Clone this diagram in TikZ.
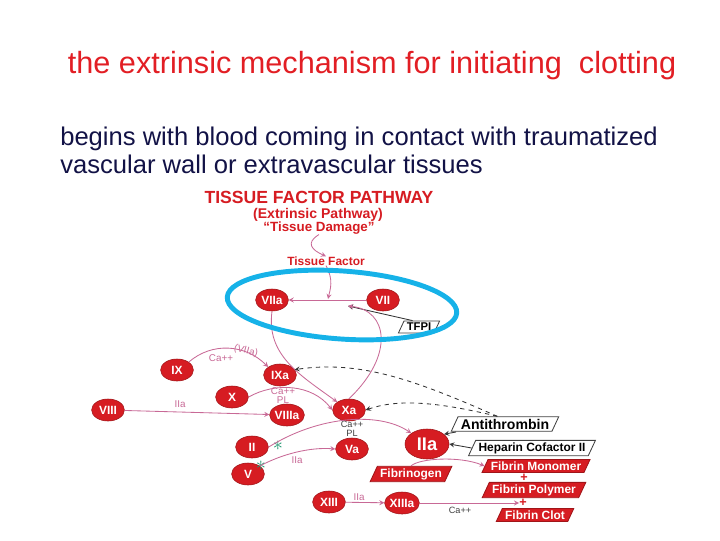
\documentclass[tikz,border=0pt]{standalone}
\usepackage{fontspec}
\setmainfont{Liberation Sans}
\usetikzlibrary{arrows,shapes.geometric}
\definecolor{nodered}{RGB}{214,28,34}
\definecolor{linkpink}{RGB}{200,105,150}
\definecolor{ringblue}{RGB}{22,178,232}
\definecolor{titlered}{RGB}{226,30,36}
\definecolor{textnavy}{RGB}{18,18,70}
\definecolor{stargreen}{RGB}{30,150,110}
\tikzstyle{factor} = [ellipse,fill=nodered,draw=nodered!75!black,text=white,font=\fontsize{8.5}{8.5}\selectfont\bfseries,inner sep=0pt,minimum width=0.82cm,minimum height=0.55cm]
\tikzstyle{bigfactor} = [factor,minimum width=1.1cm,minimum height=0.75cm,font=\fontsize{13}{13}\selectfont\bfseries]
\tikzstyle{head} = [text=nodered,inner sep=0pt]
\tikzstyle{tag} = [text=linkpink,inner sep=0pt,font=\fontsize{7}{7}\selectfont]
\tikzstyle{ion} = [text=black!75,inner sep=0pt,font=\fontsize{6.5}{6.5}\selectfont]
\tikzstyle{inhibitor} = [trapezium,trapezium left angle=65,trapezium right angle=115,draw=black!75,fill=white,font=\bfseries,inner xsep=2pt,inner ysep=1.5pt,line width=0.6pt]
\tikzstyle{fibrin} = [inhibitor,fill=nodered,draw=nodered!75!black,text=white]
\tikzstyle{link} = [draw=linkpink,line width=0.6pt,->,>=stealth]
\tikzstyle{stopper} = [draw=black!80,line width=0.6pt,->,>=stealth]
\tikzstyle{feedback} = [stopper,dashed]
\tikzstyle{star} = [text=stargreen,inner sep=0pt,font=\Large]

\begin{document}
\begin{tikzpicture}[x=0.025cm,y=-0.025cm]
				\useasboundingbox (0,0) rectangle (720,540);
				\node (title) [anchor=base,text=titlered,font=\fontsize{21.8}{26}\selectfont] at (372,73) {the extrinsic mechanism for initiating\ \ clotting};
				\node (intro1) [anchor=base west,text=textnavy,inner sep=0pt,font=\fontsize{18.2}{21}\selectfont] at (60,145) {begins with blood coming in contact with traumatized};
				\node (intro2) [anchor=base west,text=textnavy,inner sep=0pt,font=\fontsize{18.2}{21}\selectfont] at (60,173) {vascular wall or extravascular tissues};
				\node (tfp) [head,font=\fontsize{12.5}{12.5}\selectfont\bfseries] at (319,197) {TISSUE FACTOR PATHWAY};
				\node (ext) [head,font=\fontsize{10}{10}\selectfont\bfseries] at (318,215) {(Extrinsic Pathway)};
				\node (dmg) [head,font=\fontsize{9.5}{10}\selectfont\bfseries] at (319,228) {“Tissue Damage”};
				\node (tf) [head,font=\fontsize{8.5}{9}\selectfont\bfseries] at (326,261) {Tissue Factor};
				\node (viia) [factor] at (272,300) {VIIa};
				\node (vii) [factor] at (383,300) {VII};
				\node (tfpi) [inhibitor,font=\fontsize{8}{8}\selectfont\bfseries] at (419,327) {TFPI};
				\node (ix) [factor] at (177,370) {IX};
				\node (ixa) [factor] at (280,375) {IXa};
				\node (x) [factor] at (232,397) {X};
				\node (viii) [factor] at (108,410) {VIII};
				\node (viiia) [factor] at (287,415) {VIIIa};
				\node (xa) [factor] at (349,410) {Xa};
				\node (ii) [factor] at (252,447) {II};
				\node (v) [factor] at (248,474) {V};
				\node (va) [factor] at (352,449) {Va};
				\node (iia) [bigfactor] at (427,444) {IIa};
				\node (anti) [inhibitor,font=\fontsize{10}{10}\selectfont\bfseries] at (505,424) {Antithrombin};
				\node (hep) [inhibitor,font=\fontsize{8.5}{9}\selectfont\bfseries] at (532,448) {Heparin Cofactor II};
				\node (fmono) [fibrin,font=\fontsize{8.5}{8.5}\selectfont\bfseries] at (536,466) {Fibrin Monomer};
				\node (plus1) [head,font=\fontsize{9}{9}\selectfont\bfseries] at (524,478) {+};
				\node (fpoly) [fibrin,font=\fontsize{8.5}{8.5}\selectfont\bfseries] at (534,490) {Fibrin Polymer};
				\node (plus2) [head,font=\fontsize{9}{9}\selectfont\bfseries] at (523,503) {+};
				\node (fclot) [fibrin,font=\fontsize{8.5}{8.5}\selectfont\bfseries] at (535,515) {Fibrin Clot};
				\node (fbg) [fibrin,font=\fontsize{8.5}{8.5}\selectfont\bfseries] at (411,474) {Fibrinogen};
				\node (xiii) [factor] at (329,502) {XIII};
				\node (xiiia) [factor] at (402,503) {XIIIa};
				\node (viiatag) [tag,rotate=-15] at (246,351) {(VIIa)};
				\node (catag1) [tag] at (221,358) {Ca++};
				\node (catag2) [tag] at (283,391) {Ca++};
				\node (pltag2) [tag] at (283,400) {PL};
				\node (iiatag1) [tag] at (180,404) {IIa};
				\node (catag3) [ion] at (352,424) {Ca++};
				\node (pltag3) [ion] at (352,433) {PL};
				\node (iiatag2) [tag] at (297,460) {IIa};
				\node (iiatag3) [tag] at (359,497) {IIa};
				\node (catag4) [ion] at (460,510) {Ca++};
				\node (star1) [star] at (278,446) {$\ast$};
				\node (star2) [star] at (261,466) {$\ast$};
				\coordinate (tfjoin) at (328,299);
				\coordinate (hit) at (348,306);
				\coordinate (antifoot) at (456,432);
				\draw [link] (dmg.south) .. controls (305,243) and (312,250) .. (tf.north);
				\draw [link] (tf.south) .. controls (334,280) and (330,290) .. (tfjoin);
				\draw [link] (vii) -- (viia);
				\draw [stopper] (tfpi.north west) -- (hit);
				\draw [link] (xa.north) .. controls (395,355) and (388,310) .. (hit);
				\draw [link] (viia.south) .. controls (266,355) and (300,375) .. (xa.north west);
				\draw [link] (ix.north east) .. controls (212,342) and (245,344) .. (ixa.north west);
				\draw [link] (x.east) .. controls (275,382) and (312,384) .. (xa.west);
				\draw [link] (viii) -- (viiia);
				\draw [link] (ii.east) .. controls (320,415) and (380,412) .. (iia.north west);
				\draw [link] (v.north east) .. controls (282,454) and (310,447) .. (va.west);
				\draw [link] (fbg.north) .. controls (420,458) and (460,456) .. (fmono.west);
				\draw [link] (xiii) -- (xiiia);
				\draw [link] (xiiia) -- (plus2);
				\draw [stopper] (antifoot) -- (iia.30);
				\draw [stopper] (hep.west) -- (iia.east);
				\draw [feedback] (anti.north west) .. controls (415,380) and (360,360) .. (ixa.20);
				\draw [feedback] (anti.north west) .. controls (430,400) and (395,400) .. (xa.east);
				\draw [ringblue,line width=3.5pt,rotate around={-4:(342,305)}] (342,305) ellipse [x radius=115,y radius=34];
			\end{tikzpicture}
\end{document}
